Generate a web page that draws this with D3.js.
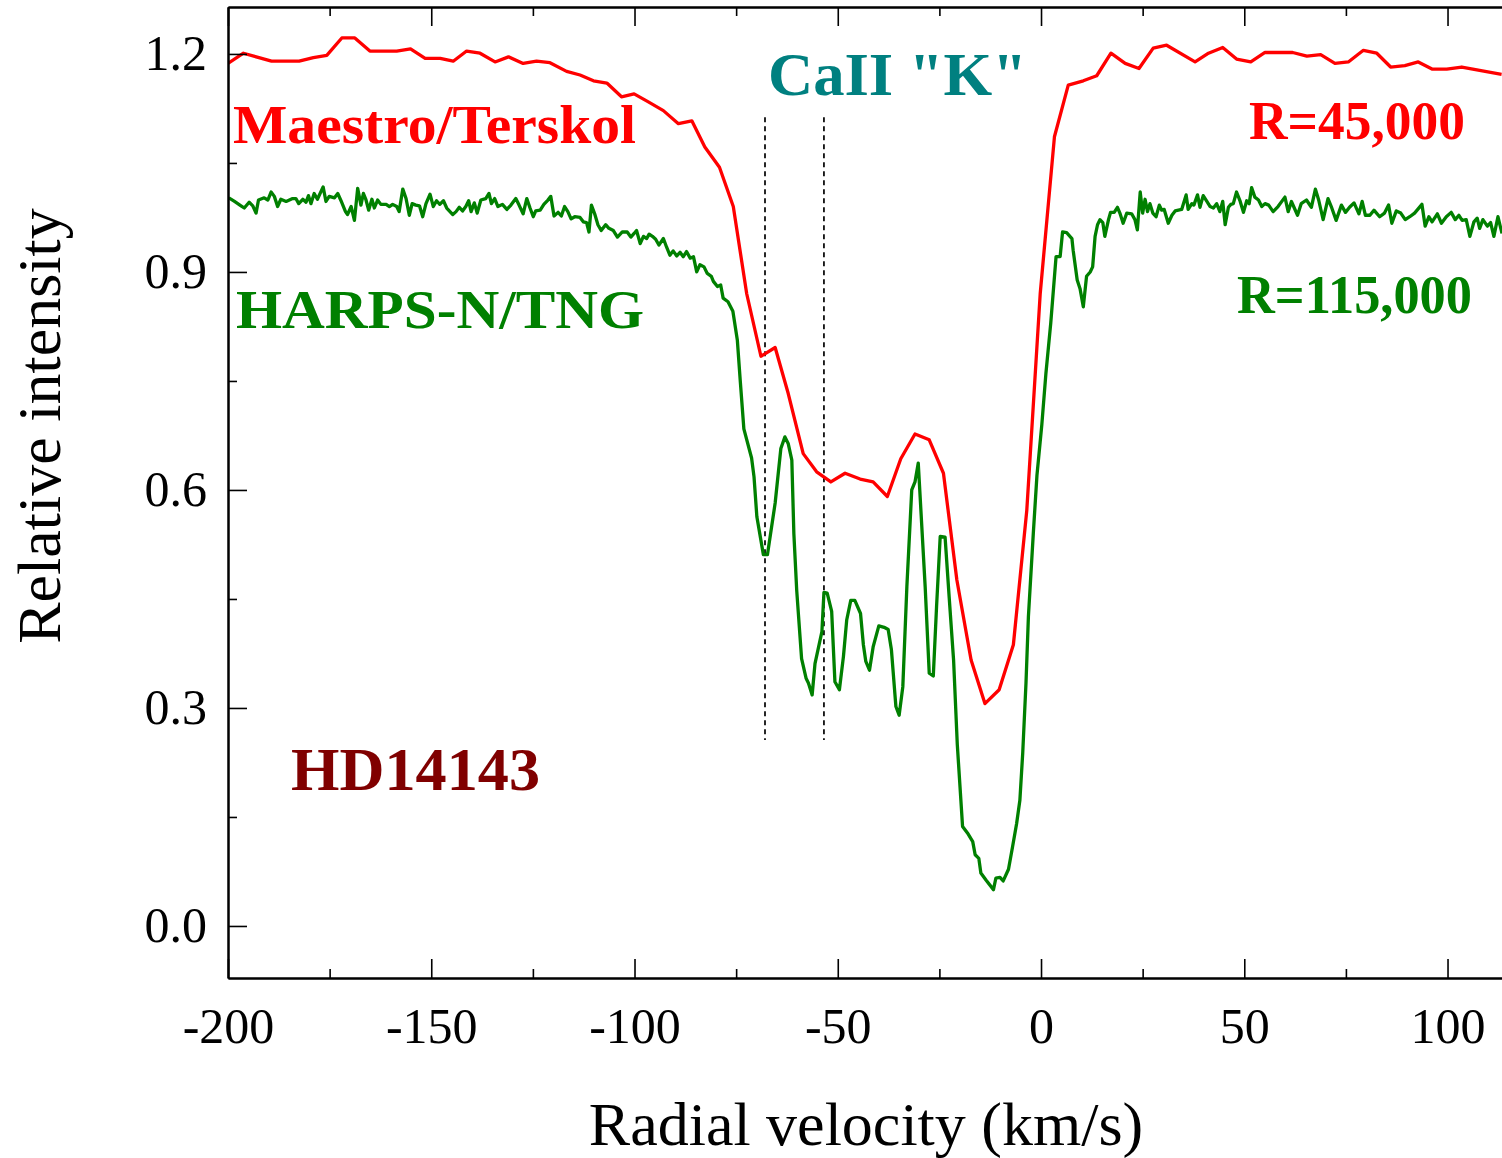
<!DOCTYPE html>
<html>
<head>
<meta charset="utf-8">
<script src="https://cdn.jsdelivr.net/npm/d3@7"></script>
<style>
  html, body { margin: 0; padding: 0; background: #fff; }
  svg { display: block; }
  text { font-family: "Liberation Serif", "Times New Roman", serif; }
</style>
</head>
<body>
<svg id="chart" width="1502" height="1158"></svg>
<script>
// Ca II K profile of HD14143 at two spectral resolutions

// Maestro/Terskol spectrum (R = 45,000)
const maestroVelocity = [
  -200, -196.2, -189.3, -182.5, -179.0, -175.7, -172.0, -168.8, -165.1, -158.5,
  -155.1, -151.5, -147.8, -144.6, -141.3, -138.0, -134.3, -131.0, -127.4, -124.1,
  -120.8, -116.7, -113.4, -110.1, -106.8, -103.2, -100.1, -96.6, -92.9, -89.2,
  -85.9, -82.7, -79.1, -75.7, -72.4, -68.9, -65.4, -62.2, -58.5, -55.2,
  -51.7, -48.2, -44.5, -41.3, -37.8, -34.5, -31.0, -27.5, -24.0, -20.7,
  -17.2, -13.8, -10.3, -6.8, -3.5, -0.2, 3.3, 6.7, 10.4, 13.7,
  17.2, 20.7, 24.1, 27.6, 30.9, 37.9, 41.2, 44.7, 48.1, 51.6,
  55.1, 61.9, 65.4, 68.8, 72.3, 75.6, 79.3, 82.6, 86.0, 89.5,
  92.8, 96.3, 99.8, 103.5, 113.3
];
const maestroIntensity = [
  1.187, 1.201, 1.190, 1.190, 1.195, 1.198, 1.222, 1.222, 1.204, 1.204,
  1.207, 1.194, 1.194, 1.190, 1.204, 1.201, 1.189, 1.196, 1.187, 1.190,
  1.188, 1.176, 1.171, 1.163, 1.160, 1.141, 1.145, 1.134, 1.122, 1.104,
  1.108, 1.072, 1.044, 0.990, 0.870, 0.784, 0.796, 0.733, 0.650, 0.625,
  0.611, 0.623, 0.615, 0.611, 0.591, 0.643, 0.677, 0.669, 0.623, 0.476,
  0.366, 0.306, 0.325, 0.387, 0.572, 0.870, 1.086, 1.157, 1.163, 1.170,
  1.201, 1.187, 1.180, 1.208, 1.212, 1.189, 1.201, 1.209, 1.193, 1.189,
  1.202, 1.202, 1.197, 1.199, 1.187, 1.189, 1.205, 1.201, 1.182, 1.184,
  1.189, 1.179, 1.179, 1.182, 1.172
];

// HARPS-N/TNG spectrum (R = 115,000)
const harpsVelocity = [
  -199.8, -198.4, -196.8, -196.0, -194.8, -193.9, -193.1, -192.5, -191.1, -190.2,
  -189.4, -188.6, -187.8, -187.0, -185.7, -184.1, -183.3, -182.6, -181.6, -180.8,
  -180.2, -179.6, -178.8, -178.0, -176.6, -175.9, -175.1, -173.8, -173.0, -172.2,
  -171.1, -170.6, -169.7, -168.9, -168.1, -167.3, -166.7, -166.1, -165.4, -164.6,
  -164.0, -163.2, -162.4, -161.1, -160.3, -159.5, -158.5, -157.9, -157.0, -156.2,
  -155.4, -154.7, -153.8, -152.9, -152.1, -151.3, -150.3, -149.5, -148.7, -147.9,
  -147.0, -146.2, -144.7, -143.9, -143.1, -142.3, -141.5, -140.8, -140.2, -139.4,
  -138.7, -137.8, -136.6, -135.8, -135.2, -134.4, -133.6, -132.5, -131.4, -130.4,
  -129.2, -128.4, -127.4, -126.5, -125.7, -124.9, -124.3, -123.2, -122.3, -121.3,
  -120.6, -119.8, -118.8, -118.0, -117.2, -116.4, -115.6, -114.7, -113.4, -112.6,
  -111.8, -111.2, -110.6, -109.8, -109.0, -108.2, -107.1, -106.3, -105.2, -104.2,
  -103.0, -101.8, -100.9, -100.1, -99.5, -98.6, -97.8, -97.0, -96.4, -95.6,
  -94.8, -94.0, -92.9, -92.1, -91.3, -90.5, -89.6, -88.8, -88.0, -87.2,
  -86.3, -85.5, -84.7, -83.9, -82.9, -82.1, -81.1, -80.6, -79.6, -78.8,
  -78.2, -77.0, -75.8, -74.7, -74.0, -73.1, -71.2, -70.6, -69.9, -68.3,
  -67.3, -65.4, -64.0, -63.0, -62.2, -61.3, -60.8, -60.1, -58.9, -57.8,
  -57.2, -56.3, -55.6, -53.9, -53.4, -52.6, -51.5, -50.7, -49.6, -48.6,
  -47.8, -46.8, -45.8, -44.4, -43.7, -43.1, -42.2, -41.3, -39.9, -38.6,
  -37.6, -36.8, -35.7, -34.9, -34.0, -33.0, -31.8, -31.0, -30.2, -29.6,
  -28.5, -27.5, -26.5, -25.7, -24.8, -23.6, -22.6, -21.5, -20.6, -19.3,
  -18.1, -16.8, -16.2, -15.3, -14.8, -13.5, -11.7, -11.1, -10.1, -9.3,
  -8.0, -7.0, -6.0, -5.2, -4.5, -3.7, -3.1, -1.9, -1.0, 0.2,
  1.2, 2.4, 3.7, 4.7, 5.3, 6.3, 7.6, 7.9, 8.9, 9.6,
  10.4, 11.2, 12.1, 12.7, 13.3, 13.9, 14.5, 15.2, 15.7, 16.6,
  17.1, 18.0, 18.8, 19.4, 20.2, 21.1, 22.3, 23.1, 23.7, 24.4,
  25.0, 25.6, 26.2, 26.8, 27.5, 28.3, 29.1, 29.7, 30.3, 31.3,
  32.2, 33.0, 34.6, 35.7, 36.2, 37.1, 37.6, 38.5, 39.1, 39.9,
  40.8, 41.6, 42.4, 43.2, 44.0, 44.7, 45.3, 46.1, 46.7, 47.3,
  48.1, 49.0, 49.8, 50.6, 51.2, 51.8, 52.6, 53.5, 54.3, 55.1,
  56.0, 57.1, 58.3, 60.0, 60.8, 61.6, 63.1, 64.0, 65.3, 66.5,
  67.5, 68.3, 69.4, 70.6, 71.4, 72.6, 73.9, 74.9, 75.9, 77.0,
  78.2, 79.0, 79.8, 80.9, 81.9, 83.3, 84.5, 85.5, 86.3, 87.4,
  88.5, 89.6, 90.7, 91.9, 93.7, 94.5, 95.4, 96.2, 97.5, 98.5,
  99.7, 100.9, 101.9, 102.8, 103.6, 104.6, 105.5, 106.5, 107.3, 107.9,
  108.7, 109.8, 110.6, 111.4, 112.4, 113.4
];
const harpsIntensity = [
  1.002, 0.997, 0.991, 0.988, 0.996, 0.991, 0.981, 0.999, 1.002, 0.999,
  1.010, 1.004, 0.990, 1.000, 0.997, 1.001, 1.001, 0.994, 1.000, 0.996,
  1.005, 0.994, 1.008, 1.000, 1.017, 0.997, 1.004, 1.002, 1.008, 0.998,
  0.983, 0.979, 0.990, 0.971, 1.015, 0.992, 1.008, 1.000, 0.985, 1.000,
  0.988, 0.999, 0.993, 0.993, 0.990, 0.993, 0.990, 0.983, 1.014, 1.001,
  0.978, 0.994, 0.992, 0.991, 0.976, 0.994, 1.007, 0.990, 0.998, 0.993,
  0.998, 0.988, 0.979, 0.983, 0.989, 0.984, 0.990, 0.998, 0.983, 0.995,
  0.981, 0.999, 1.001, 1.008, 0.994, 1.001, 0.990, 0.993, 0.986, 0.992,
  1.001, 0.992, 0.980, 1.001, 0.988, 0.976, 0.984, 0.985, 0.993, 0.999,
  1.004, 0.977, 0.982, 0.977, 0.990, 0.983, 0.973, 0.976, 0.975, 0.969,
  0.968, 0.955, 0.992, 0.980, 0.965, 0.957, 0.965, 0.960, 0.957, 0.948,
  0.955, 0.955, 0.948, 0.953, 0.957, 0.939, 0.949, 0.946, 0.952, 0.949,
  0.945, 0.937, 0.946, 0.934, 0.923, 0.929, 0.922, 0.927, 0.921, 0.928,
  0.919, 0.921, 0.900, 0.910, 0.907, 0.898, 0.894, 0.887, 0.880, 0.882,
  0.864, 0.859, 0.846, 0.806, 0.751, 0.684, 0.644, 0.618, 0.563, 0.511,
  0.511, 0.582, 0.657, 0.673, 0.664, 0.641, 0.540, 0.462, 0.368, 0.341,
  0.334, 0.318, 0.361, 0.405, 0.459, 0.458, 0.433, 0.336, 0.325, 0.371,
  0.421, 0.448, 0.448, 0.430, 0.387, 0.364, 0.352, 0.384, 0.413, 0.411,
  0.408, 0.380, 0.302, 0.290, 0.329, 0.467, 0.600, 0.611, 0.637, 0.577,
  0.467, 0.348, 0.344, 0.439, 0.536, 0.535, 0.453, 0.365, 0.250, 0.137,
  0.128, 0.116, 0.098, 0.093, 0.073, 0.063, 0.050, 0.066, 0.067, 0.062,
  0.078, 0.109, 0.141, 0.173, 0.238, 0.334, 0.426, 0.540, 0.620, 0.690,
  0.760, 0.830, 0.921, 0.921, 0.955, 0.954, 0.946, 0.930, 0.889, 0.877,
  0.852, 0.894, 0.900, 0.907, 0.949, 0.965, 0.972, 0.968, 0.949, 0.972,
  0.982, 0.982, 0.989, 0.981, 0.967, 0.981, 0.980, 0.972, 0.958, 1.010,
  0.981, 1.000, 0.983, 0.994, 0.981, 0.976, 0.992, 0.985, 0.986, 0.967,
  0.978, 0.984, 0.986, 1.006, 0.986, 0.994, 0.992, 1.006, 0.989, 1.005,
  0.997, 0.990, 0.988, 0.994, 0.983, 0.997, 0.965, 0.989, 0.993, 0.994,
  1.010, 0.997, 0.982, 0.998, 0.994, 1.016, 1.003, 0.999, 0.990, 0.994,
  0.992, 0.983, 0.990, 1.003, 0.983, 0.997, 0.978, 0.994, 0.999, 0.989,
  1.014, 0.999, 0.972, 1.001, 0.990, 0.971, 0.992, 0.982, 0.989, 0.995,
  0.980, 0.997, 0.978, 0.978, 0.985, 0.976, 0.981, 0.992, 0.967, 0.984,
  0.981, 0.972, 0.976, 0.981, 0.993, 0.963, 0.976, 0.969, 0.980, 0.967,
  0.976, 0.982, 0.972, 0.978, 0.971, 0.972, 0.949, 0.969, 0.974, 0.960,
  0.972, 0.963, 0.968, 0.949, 0.976, 0.953
];

// Interstellar component velocities marked with dashed lines
const markerVelocity = [-67.9, -53.4];
const markerRange = [0.256, 1.113];

// Axis ticks
const xMajorTicks = [-200, -150, -100, -50, 0, 50, 100];
const xMinorTicks = [-175, -125, -75, -25, 25, 75];
const yMajorTicks = [0.0, 0.3, 0.6, 0.9, 1.2];
const yMinorTicks = [0.15, 0.45, 0.75, 1.05];

const plot = { left: 228, right: 1502, top: 7, bottom: 978 };

const svg = d3.select("#chart");

const x = d3.scaleLinear().domain([-200, 113.4]).range([plot.left, plot.right]);
const y = d3.scaleLinear().domain([-0.0716, 1.2646]).range([plot.bottom, plot.top]);

svg.append("defs").append("clipPath").attr("id", "plot-clip")
  .append("rect")
  .attr("x", plot.left).attr("y", plot.top)
  .attr("width", plot.right - plot.left).attr("height", plot.bottom - plot.top);

const lines = svg.append("g").attr("clip-path", "url(#plot-clip)");

// Dashed component markers
lines.selectAll("line.marker")
  .data(markerVelocity)
  .join("line")
  .attr("class", "marker")
  .attr("x1", d => x(d)).attr("x2", d => x(d))
  .attr("y1", y(markerRange[1])).attr("y2", y(markerRange[0]))
  .attr("stroke", "#000")
  .attr("stroke-width", 1.7)
  .attr("stroke-dasharray", "5,4");

const line = d3.line()
  .x(d => x(d[0]))
  .y(d => y(d[1]));

const maestro = d3.zip(maestroVelocity, maestroIntensity);
const harps = d3.zip(harpsVelocity, harpsIntensity);

lines.append("path")
  .datum(harps)
  .attr("d", line)
  .attr("fill", "none")
  .attr("stroke", "#008000")
  .attr("stroke-width", 3.3)
  .attr("stroke-linejoin", "round");

lines.append("path")
  .datum(maestro)
  .attr("d", line)
  .attr("fill", "none")
  .attr("stroke", "#ff0000")
  .attr("stroke-width", 3.3)
  .attr("stroke-linejoin", "round");

// Axes
function styleAxis(g) {
  g.select(".domain").attr("stroke", "#000").attr("stroke-width", 2);
  g.selectAll(".tick line").attr("stroke", "#000").attr("stroke-width", 1.6);
  g.selectAll(".tick text")
    .attr("fill", "#000")
    .style("font-family", "'Liberation Serif', serif")
    .style("font-size", "50px");
}

// plain hyphen for negative labels
const velocityFormat = d => String(d);

// bottom
svg.append("g")
  .attr("transform", `translate(0,${plot.bottom})`)
  .call(d3.axisBottom(x).tickValues(xMajorTicks).tickSize(-19).tickSizeOuter(0)
    .tickPadding(29).tickFormat(velocityFormat))
  .call(styleAxis);
svg.append("g")
  .attr("transform", `translate(0,${plot.bottom})`)
  .call(d3.axisBottom(x).tickValues(xMinorTicks).tickSize(-9).tickSizeOuter(0).tickFormat(""))
  .call(styleAxis);

// top
svg.append("g")
  .attr("transform", `translate(0,${plot.top})`)
  .call(d3.axisTop(x).tickValues(xMajorTicks).tickSize(-19).tickSizeOuter(0).tickFormat(""))
  .call(styleAxis);
svg.append("g")
  .attr("transform", `translate(0,${plot.top})`)
  .call(d3.axisTop(x).tickValues(xMinorTicks).tickSize(-9).tickSizeOuter(0).tickFormat(""))
  .call(styleAxis);

// left
svg.append("g")
  .attr("transform", `translate(${plot.left},0)`)
  .call(d3.axisLeft(y).tickValues(yMajorTicks).tickSize(-19).tickSizeOuter(0)
    .tickPadding(21).tickFormat(d3.format(".1f")))
  .call(styleAxis);
svg.append("g")
  .attr("transform", `translate(${plot.left},0)`)
  .call(d3.axisLeft(y).tickValues(yMinorTicks).tickSize(-9).tickSizeOuter(0).tickFormat(""))
  .call(styleAxis);

// Axis titles
svg.append("text")
  .attr("x", 866).attr("y", 1145)
  .attr("text-anchor", "middle")
  .style("font-size", "62px")
  .attr("fill", "#000")
  .text("Radial velocity (km/s)");

svg.append("text")
  .attr("transform", "translate(60,426) rotate(-90)")
  .attr("text-anchor", "middle")
  .style("font-size", "62px")
  .attr("fill", "#000")
  .text("Relative intensity");

// Annotations
const labels = [
  { text: "Maestro/Terskol", x: 233, y: 143, size: 55, len: 403, color: "#ff0000" },
  { text: "HARPS-N/TNG", x: 236, y: 328, size: 55, len: 408, color: "#008000" },
  { text: "R=45,000", x: 1249, y: 139, size: 54, len: 216, color: "#ff0000" },
  { text: "R=115,000", x: 1237, y: 313, size: 54, len: 235, color: "#008000" },
  { text: "CaII \"K\"", x: 768, y: 95, size: 62, len: 259, color: "#008080" },
  { text: "HD14143", x: 291, y: 790, size: 62, len: 249, color: "#800000" }
];

svg.selectAll("text.label")
  .data(labels)
  .join("text")
  .attr("class", "label")
  .attr("x", d => d.x)
  .attr("y", d => d.y)
  .attr("fill", d => d.color)
  .attr("textLength", d => d.len)
  .attr("lengthAdjust", "spacingAndGlyphs")
  .style("font-size", d => d.size + "px")
  .style("font-weight", "bold")
  .text(d => d.text);
</script>
</body>
</html>
